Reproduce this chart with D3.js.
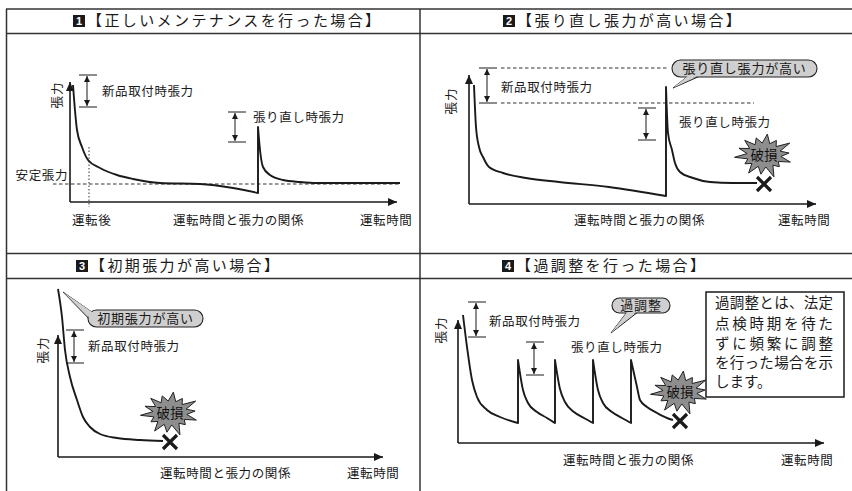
<!DOCTYPE html>
<html><head><meta charset="utf-8">
<script src="https://cdn.jsdelivr.net/npm/d3@7"></script>
<style>body{margin:0;background:#fff}svg{display:block;font-family:"Noto Sans CJK JP","Noto Sans",sans-serif}</style>
</head><body><svg id="c" width="852" height="491"></svg>
<script>
// ---------- data ----------
const panelNumbers = ["1", "2", "3", "4"];
const panelTitles = ["【正しいメンテナンスを行った場合】", "【張り直し張力が高い場合】", "【初期張力が高い場合】", "【過調整を行った場合】"];
const axisLabelY = "張力";
const axisLabelX = "運転時間";
const captionX = "運転時間と張力の関係";
const labelNew = "新品取付時張力";
const labelRe = "張り直し時張力";
const labelStable = "安定張力";
const labelAfter = "運転後";
const labelBreak = "破損";
const calloutTexts = ["張り直し張力が高い", "初期張力が高い", "過調整"];
const noteLines = ["過調整とは、法定", "点検時期を待た", "ずに頻繁に調整", "を行った場合を示", "します。"];

// tension curves: [operating time, tension] (arbitrary units)
const p1Seg1 = [[3,117],[7,72],[12,55],[18,42],[30,34],[47,27],[63,23],[90,19],[130,18],[163,14],[188,9]];
const p1Seg2 = [[188,75],[190,52],[193,35],[200,27],[213,22],[230,20],[247,19],[330,19]];
const p1Stable = 18;
const p1After = 19;

const p2Seg1 = [[5,119],[7,77],[10,57],[14,47],[20,37],[34,31],[57,26],[90,22],[140,17],[197,8]];
const p2Seg2 = [[197,117],[199,71],[203,54],[206,41],[211,32],[224,26],[241,22],[264,21],[288,21]];
const p2NewHigh = 136, p2NewLow = 101;

const p3Seg1 = [[0,168],[4,140],[7,107],[12,80],[19,57],[25,40],[32,30],[42,23],[59,19],[82,17],[105,16]];

const p4Seg1 = [[5,128],[9,96],[14,63],[19,46],[29,33],[42,26],[60,20]];
const p4Seg2 = [[60,83],[65,53],[70,40],[79,31],[89,25],[97,20]];
const p4Seg3 = [[97,83],[102,54],[107,41],[116,31],[126,25],[135,20]];
const p4Seg4 = [[135,83],[140,53],[145,40],[154,31],[164,25],[173,20]];
const p4Seg5 = [[173,83],[179,56],[182,43],[189,36],[199,30],[209,25],[215,23]];

// ---------- drawing ----------
const ink = "#1a1a1a";
const svg = d3.select("#c");
const defs = svg.append("defs");
defs.append("marker").attr("id","ah").attr("markerUnits","userSpaceOnUse")
  .attr("markerWidth",10).attr("markerHeight",8).attr("refX",9).attr("refY",4).attr("orient","auto")
  .append("path").attr("d","M0,0L9,4L0,8Z").attr("fill",ink);
defs.append("marker").attr("id","sa").attr("markerUnits","userSpaceOnUse")
  .attr("markerWidth",7).attr("markerHeight",6).attr("refX",6).attr("refY",3).attr("orient","auto-start-reverse")
  .append("path").attr("d","M0,0L6,3L0,6Z").attr("fill",ink);

// grid
const grid = svg.append("g").attr("stroke","#333").attr("stroke-width",1.5);
[9, 33.5, 253.5, 278.5].forEach(yy => grid.append("line").attr("x1",6).attr("x2",852).attr("y1",yy).attr("y2",yy));
[6.5, 420].forEach(xx => grid.append("line").attr("x1",xx).attr("x2",xx).attr("y1",9).attr("y2",491));

// titles
const titlePos = [[73,15],[503,15],[76,260],[502,260]];
titlePos.forEach((p,i) => {
  const g = svg.append("g");
  g.append("rect").attr("x",p[0]).attr("y",p[1]).attr("width",12).attr("height",12).attr("fill",ink);
  g.append("text").attr("x",p[0]+6).attr("y",p[1]+6).attr("dy","0.36em").attr("text-anchor","middle")
    .attr("fill","#fff").attr("font-size",11).attr("font-weight","bold").attr("font-family","Liberation Sans, Arial").text(panelNumbers[i]);
  g.append("text").attr("x",p[0]+14).attr("y",p[1]+6).attr("dy","0.36em").attr("font-size",15)
    .attr("letter-spacing","2.4px").attr("fill",ink).text(panelTitles[i]);
});

function label(g, x, y, t, opts={}) {
  return g.append("text").attr("x",x).attr("y",y).attr("dy","0.36em").attr("font-size",opts.size||12.5)
    .attr("letter-spacing",(opts.ls==null?0.6:opts.ls)+"px").attr("fill",ink)
    .attr("text-anchor",opts.anchor||"start").text(t);
}

function panel(p) {
  const g = svg.append("g");
  const x = d3.scaleLinear().domain([0,p.xlen]).range([p.ox,p.ox+p.xlen]);
  const y = d3.scaleLinear().domain([0,p.ylen]).range([p.oy,p.oy-p.ylen]);
  (p.dashes||[]).forEach(d => g.append("line").attr("x1",x(d[0])).attr("x2",x(d[1])).attr("y1",y(d[2])).attr("y2",y(d[2]))
    .attr("stroke","#333").attr("stroke-width",1).attr("stroke-dasharray","3.5,2.5"));
  (p.vdots||[]).forEach(d => g.append("line").attr("x1",x(d[0])).attr("x2",x(d[0])).attr("y1",y(d[1])).attr("y2",y(d[2]))
    .attr("stroke","#333").attr("stroke-width",1).attr("stroke-dasharray","1.5,2"));
  g.append("line").attr("x1",x(0)).attr("y1",y(0)).attr("x2",x(0)).attr("y2",y(p.ylen))
    .attr("stroke",ink).attr("stroke-width",1.6).attr("marker-end","url(#ah)");
  g.append("line").attr("x1",x(0)).attr("y1",y(0)).attr("x2",x(p.xlen)).attr("y2",y(0))
    .attr("stroke",ink).attr("stroke-width",1.6).attr("marker-end","url(#ah)");
  const line = d3.line().x(d=>x(d[0])).y(d=>y(d[1])).curve(d3.curveMonotoneX);
  const dstr = p.segs.map((s,i) => { const d = line(s); return i ? "L" + d.slice(1) : d; }).join("");
  g.append("path").attr("d",dstr).attr("fill","none").attr("stroke",ink).attr("stroke-width",1.9).attr("stroke-linejoin","round");
  (p.brackets||[]).forEach(b => {
    [b.top,b.bot].forEach(v => g.append("line").attr("x1",x(b.t0)).attr("x2",x(b.t1)).attr("y1",y(v)).attr("y2",y(v))
      .attr("stroke",ink).attr("stroke-width",1));
    g.append("line").attr("x1",x(b.ta)).attr("x2",x(b.ta)).attr("y1",y(b.top)+1).attr("y2",y(b.bot)-1)
      .attr("stroke",ink).attr("stroke-width",1).attr("marker-start","url(#sa)").attr("marker-end","url(#sa)");
  });
  g.append("text").attr("transform",`translate(${p.yl[0]},${p.yl[1]}) rotate(-90)`).attr("dy","0.36em")
    .attr("text-anchor","middle").attr("font-size",12.5).attr("letter-spacing","1px").attr("fill",ink).text(axisLabelY);
  label(g, p.cap[0], p.cap[1], captionX);
  label(g, p.xl[0], p.xl[1], axisLabelX);
  (p.labels||[]).forEach(l => label(g, l[0], l[1], l[2], l[3]||{}));
  if (p.burst) {
    const last = p.segs[p.segs.length-1];
    const end = last[last.length-1];
    const cx = x(end[0]) + 7, cy = y(end[1]) + 1;
    burst(g, cx, cy - 29);
    g.append("path").attr("d",`M${cx-7},${cy-7}L${cx+7},${cy+7}M${cx+7},${cy-7}L${cx-7},${cy+7}`)
      .attr("stroke",ink).attr("stroke-width",3.2).attr("stroke-linecap","butt");
  }
  if (p.callout) callout(g, p.callout);
  return g;
}

const burstIrr = [1.0,0.82,1.08,0.9,1.0,0.78,1.1,0.92,1.02,0.8,1.06,0.95,0.98,0.86];
function burst(g, cx, cy) {
  const n = burstIrr.length, pts = [];
  for (let i = 0; i < 2*n; i++) {
    const a = i*Math.PI/n - Math.PI/2 + 0.12;
    const outer = i%2===0;
    const k = outer ? burstIrr[i/2] : 1;
    const rx = outer ? 28*k : 17, ry = outer ? 21*k : 12;
    pts.push([cx + rx*Math.cos(a), cy + ry*Math.sin(a)]);
  }
  g.append("path").attr("d","M"+pts.map(p=>p.join(",")).join("L")+"Z").attr("fill","#8e8e8e").attr("stroke","#222").attr("stroke-width",1);
  g.append("text").attr("x",cx).attr("y",cy).attr("dy","0.36em").attr("text-anchor","middle").attr("font-size",13.5)
    .attr("fill","#111").text(labelBreak);
}

function callout(g, c) {
  const tail = `M${c.base[0]},${c.y1-1}L${c.tip[0]},${c.tip[1]}L${c.base[1]},${c.y1-1}`;
  g.append("path").attr("d",tail+"Z").attr("fill","#cfcfcf").attr("stroke","#222").attr("stroke-width",1);
  const h = c.y1 - c.y0;
  g.append("rect").attr("x",c.x0).attr("y",c.y0).attr("width",c.x1-c.x0).attr("height",h).attr("rx",h/2)
    .attr("fill","#cfcfcf").attr("stroke","#222").attr("stroke-width",1.1);
  g.append("path").attr("d",`M${c.base[0]+1},${c.y1-2}L${c.tip[0]},${c.tip[1]}L${c.base[1]-1},${c.y1-2}Z`).attr("fill","#cfcfcf");
  g.append("text").attr("x",(c.x0+c.x1)/2).attr("y",(c.y0+c.y1)/2).attr("dy","0.36em").attr("text-anchor","middle")
    .attr("font-size",13).attr("letter-spacing","0.8px").attr("fill",ink).text(c.text);
}

// Panel 1
panel({ox:70, oy:202, xlen:327, ylen:120, segs:[p1Seg1,p1Seg2],
  dashes:[[-17,330,p1Stable]], vdots:[[p1After,55,-5]],
  brackets:[{t0:9,t1:27,ta:17,top:127,bot:95},{t0:158,t1:176,ta:165,top:90,bot:60}],
  yl:[57,95], cap:[173,220], xl:[360,220],
  labels:[[102,91,labelNew],[253,117,labelRe],[68,175,labelStable,{anchor:"end"}],[72,220,labelAfter]]});

// Panel 2
panel({ox:469, oy:204, xlen:347, ylen:129, segs:[p2Seg1,p2Seg2],
  dashes:[[32,200,p2NewHigh],[32,285,p2NewLow]],
  brackets:[{t0:10,t1:28,ta:18,top:p2NewHigh,bot:p2NewLow},{t0:169,t1:187,ta:177,top:96,bot:64}],
  yl:[451,101], cap:[574,220], xl:[778,220],
  labels:[[501,87,labelNew],[679,122,labelRe]],
  burst:true,
  callout:{x0:672,x1:817,y0:60,y1:77,base:[688,700],tip:[673,88],text:calloutTexts[0]}});

// Panel 3
panel({ox:58, oy:457, xlen:325, ylen:122, segs:[p3Seg1],
  brackets:[{t0:8,t1:26,ta:16,top:127,bot:94}],
  yl:[43,350], cap:[160,473], xl:[347,473],
  labels:[[88,346,labelNew]],
  burst:true,
  callout:{x0:88,x1:203,y0:310,y1:327,base:[96,112],tip:[63,292],text:calloutTexts[1]}});

// Panel 4
panel({ox:458, oy:443, xlen:366, ylen:123, segs:[p4Seg1,p4Seg2,p4Seg3,p4Seg4,p4Seg5],
  brackets:[{t0:10,t1:28,ta:18,top:141,bot:106},{t0:68,t1:86,ta:76,top:101,bot:68}],
  yl:[441,330], cap:[563,460], xl:[781,460],
  labels:[[489,321,labelNew],[571,347,labelRe]],
  burst:true,
  callout:{x0:612,x1:670,y0:298,y1:313,base:[627,638],tip:[611,333],text:calloutTexts[2]}});

// note box
const nb = svg.append("g");
nb.append("rect").attr("x",706).attr("y",292).attr("width",138).attr("height",105).attr("fill","#fff").attr("stroke",ink).attr("stroke-width",1.5);
const noteY = [303, 324, 344, 363, 382];
noteLines.forEach((t,i) => {
  const tx = nb.append("text").attr("x",715).attr("y",noteY[i]).attr("dy","0.36em").attr("font-size",14.5).attr("fill",ink).text(t);
  if (i < 4) tx.attr("textLength",118).attr("lengthAdjust","spacing");
});
</script></body></html>
